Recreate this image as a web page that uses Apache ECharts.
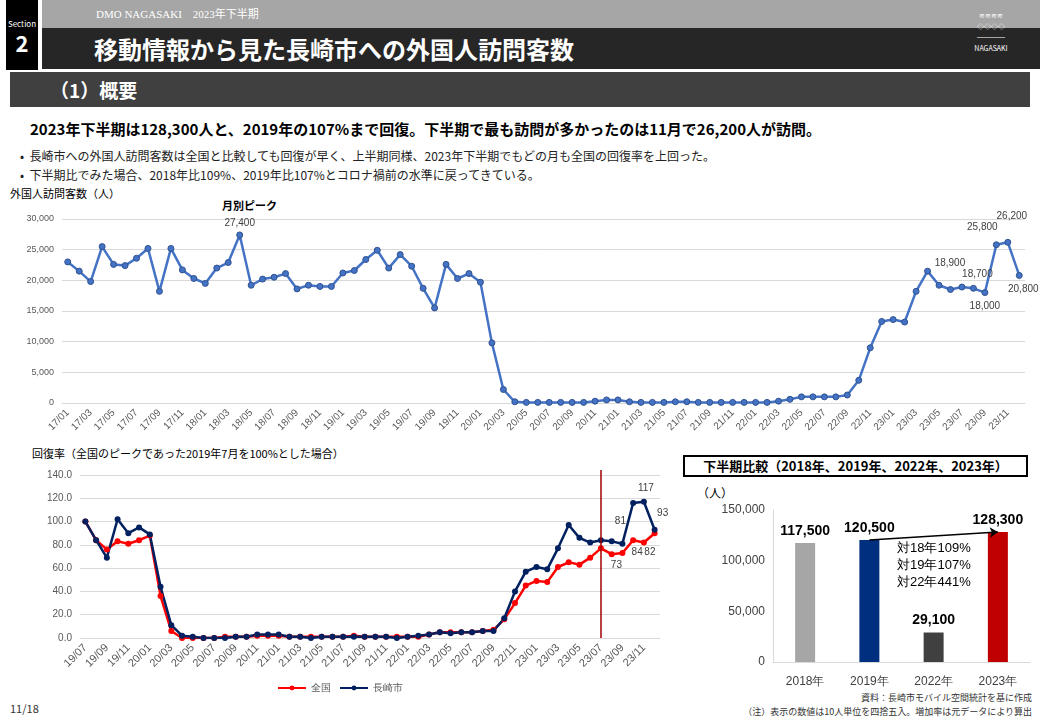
<!DOCTYPE html>
<html><head><meta charset="utf-8">
<script src="https://cdn.jsdelivr.net/npm/echarts@6/dist/echarts.min.js"></script>
<style>
body{margin:0;width:1040px;height:720px;position:relative;background:#fff;font-family:"Noto Sans CJK JP","Noto Sans",sans-serif;overflow:hidden}
.abs{position:absolute}
</style></head><body>
<div class="abs" style="left:6px;top:0;height:70px;background:#000;color:#fff;text-align:center;width:32px">
  <div style="font-size:8px;margin-top:18px">Section</div><div style="font-size:22px;font-weight:bold;line-height:26px">2</div></div>
<div class="abs" style="left:42px;top:0;width:998px;height:28px;background:#a6a6a6;color:#fff;font-size:11px;line-height:28px;padding-left:54px;box-sizing:border-box;font-family:'Liberation Serif','Noto Sans CJK JP'">DMO NAGASAKI　2023年下半期</div>
<div class="abs" style="left:42px;top:28px;width:998px;height:41px;background:#262626;color:#fff;font-size:24px;font-weight:bold;line-height:41px;padding-left:52px;box-sizing:border-box">移動情報から見た長崎市への外国人訪問客数</div>
<div class="abs" style="left:966px;top:10px;width:50px;height:52px;color:#fff;font-size:7px;text-align:center;line-height:11px">≋≋≋≋<br>◇◇◇◇<br>════<br>NAGASAKI</div>
<div class="abs" style="left:10px;top:72px;width:1020px;height:35px;background:#404040;color:#fff;font-size:19px;font-weight:bold;line-height:35px;padding-left:40px;box-sizing:border-box">（1）概要</div>
<div class="abs" style="left:30px;top:118px;font-size:15px;font-weight:bold;color:#000">2023年下半期は128,300人と、2019年の107%まで回復。下半期で最も訪問が多かったのは11月で26,200人が訪問。</div>
<div class="abs" style="left:20px;top:146px;font-size:12px;color:#222;line-height:19px">•&nbsp; 長崎市への外国人訪問客数は全国と比較しても回復が早く、上半期同様、2023年下半期でもどの月も全国の回復率を上回った。<br>•&nbsp; 下半期比でみた場合、2018年比109%、2019年比107%とコロナ禍前の水準に戻ってきている。</div>
<div class="abs" style="left:10px;top:185px;font-size:11px;color:#000">外国人訪問客数（人）</div>
<div class="abs" style="left:222px;top:197px;font-size:11px;font-weight:bold;color:#000">月別ピーク</div>
<div class="abs" style="left:32px;top:445px;font-size:11px;color:#000">回復率（全国のピークであった2019年7月を100%とした場合）</div>
<div class="abs" style="left:683px;top:455px;width:345px;height:22px;border:2px solid #000;box-sizing:border-box;font-size:13px;font-weight:bold;text-align:center;line-height:18px">下半期比較（2018年、2019年、2022年、2023年）</div>
<div class="abs" style="left:697px;top:484px;font-size:12px">（人）</div>
<div class="abs" style="right:8px;top:691px;font-size:9px;color:#333">資料：長崎市モバイル空間統計を基に作成</div>
<div class="abs" style="right:8px;top:705px;font-size:9px;color:#333">（注）表示の数値は10人単位を四捨五入。増加率は元データにより算出</div>
<div class="abs" style="left:10px;top:700px;font-size:11px;color:#333">11/18</div>
<div id="c1" class="abs" style="left:0;top:200px;width:1040px;height:245px"></div>
<div id="c2" class="abs" style="left:0;top:460px;width:680px;height:240px"></div>
<div id="c3" class="abs" style="left:690px;top:490px;width:350px;height:205px"></div>
<script>
const months = [];
for (let y = 17; y <= 23; y++) for (let m = 1; m <= 12; m++) months.push(y + '/' + String(m).padStart(2, '0'));
const visitors = [
 23000,21500,19800,25500,22600,22400,23600,25200,18200,25200,21700,20300,
 19500,22000,22900,27400,19200,20200,20500,21100,18600,19200,19000,19000,
 21200,21600,23400,24900,22000,24200,22300,18700,15500,22600,20300,21100,
 19700,9800,2200,200,100,100,100,100,100,100,300,500,
 500,200,100,100,100,200,200,100,100,100,100,100,
 100,100,300,600,1000,1000,1000,1000,1300,3700,9000,13300,
 13600,13200,18200,21500,19200,18500,18900,18700,18000,25800,26200,20800];
// label offsets [dx, dy] relative to the point
const visLabels = {'18/04':[0,-12],'23/07':[-12,-24],'23/08':[4,-14],'23/09':[0,14],'23/10':[-14,-18],'23/11':[4,-26],'23/12':[4,14]};

const rMonths = months.slice(30);
const nagasaki = [100,84,69,102,90,95,89,44,11,2,1,0,0,0,1,1,3,3,3,1,1,0,1,1,1,1,1,1,1,0,
 1,2,3,5,4,5,5,6,6,17,40,57,61,59,77,97,86,82,84,83,81,116,117,93];
const national = [100,84,76,83,81,84,88,36,6,0,0,0,0,1,1,1,2,2,2,1,1,1,1,1,1,2,1,1,1,1,
 1,1,3,5,5,5,5,6,7,16,30,45,49,48,61,65,63,69,77,72,73,84,82,90];
const nagLabels = {'23/09':['81',[-2,-22]],'23/11':['117',[2,-14]],'23/12':['93',[8,-16]]};
const natLabels = {'23/09':['73',[-6,12]],'23/10':['84',[4,12]],'23/11':['82',[6,10]]};

const years = ['2018年','2019年','2022年','2023年'];
const halfTotals = [117500,120500,29100,128300];
const barColors = ['#a6a6a6','#002f7f','#404040','#c00000'];

const axisLbl = {color:'#595959', fontSize:10};
const fmt = v => v.toLocaleString('en-US');
const c1 = echarts.init(document.getElementById('c1'));
c1.setOption({
  grid:{left:62,right:15,top:19,bottom:42},
  xAxis:{type:'category',data:months,axisTick:{show:false},axisLine:{lineStyle:{color:'#d9d9d9'}},
    axisLabel:{...axisLbl,interval:1,rotate:45}},
  yAxis:{type:'value',min:0,max:30000,interval:5000,axisLabel:{...axisLbl,fontSize:9,formatter:fmt},splitLine:{lineStyle:{color:'#d9d9d9'}}},
  series:[{type:'line',data:visitors.map((v,i)=>{
      const o = visLabels[months[i]];
      return o ? {value:v,label:{show:true,position:'inside',offset:o,formatter:fmt(v),color:'#404040',fontSize:10}} : v;}),
    symbol:'circle',symbolSize:6,lineStyle:{color:'#4472c4',width:2.5},itemStyle:{color:'#4472c4',borderColor:'#2f528f',borderWidth:1}}]
});

const c2 = echarts.init(document.getElementById('c2'));
const mk = (arr, lbls) => arr.map((v,i)=>{
  const l = lbls[rMonths[i]];
  return l ? {value:v,label:{show:true,position:'inside',offset:l[1],formatter:l[0],color:'#404040',fontSize:10}} : v;});
c2.setOption({
  legend:{bottom:2,itemWidth:28,itemHeight:6,textStyle:{fontSize:10,color:'#595959'},data:['全国','長崎市']},
  grid:{left:80,right:20,top:15,bottom:62},
  xAxis:{type:'category',data:rMonths,axisTick:{show:false},axisLine:{lineStyle:{color:'#d9d9d9'}},axisLabel:{...axisLbl,fontSize:11,interval:1,rotate:45}},
  yAxis:{type:'value',min:0,max:140,interval:20,axisLabel:{...axisLbl,formatter:v=>v.toFixed(1)},splitLine:{lineStyle:{color:'#d9d9d9'}}},
  series:[
    {name:'全国',type:'line',data:mk(national,natLabels),symbol:'circle',symbolSize:6,lineStyle:{color:'#ff0000',width:2.5},itemStyle:{color:'#ff0000'}},
    {name:'長崎市',type:'line',data:mk(nagasaki,nagLabels),symbol:'circle',symbolSize:6,lineStyle:{color:'#002060',width:2.5},itemStyle:{color:'#002060'},
      markLine:{silent:true,symbol:'none',label:{show:false},lineStyle:{color:'#a00000',type:'solid',width:1.5},data:[[{xAxis:'23/07',y:10},{xAxis:'23/07',yAxis:0}]]}}
  ]
});

const c3 = echarts.init(document.getElementById('c3'));
c3.setOption({
  grid:{left:83,right:10,top:20,bottom:33},
  xAxis:{type:'category',data:years,axisTick:{show:false},axisLine:{lineStyle:{color:'#d9d9d9'}},axisLabel:{color:'#404040',fontSize:12,margin:14}},
  yAxis:{type:'value',min:0,max:150000,interval:50000,axisLine:{show:true,lineStyle:{color:'#d9d9d9'}},axisLabel:{color:'#404040',fontSize:12,formatter:fmt},splitLine:{show:false}},
  series:[{type:'bar',barWidth:20,data:halfTotals.map((v,i)=>({value:v,itemStyle:{color:barColors[i]}})),
    label:{show:true,position:'top',fontSize:14,fontWeight:'bold',color:'#000',formatter:p=>fmt(p.value)},
    markLine:{silent:true,symbol:['none','arrow'],symbolSize:8,label:{show:false},lineStyle:{color:'#000',type:'solid',width:1.5},
      data:[[{coord:['2019年',halfTotals[1]]},{coord:['2023年',halfTotals[3]]}]]}}],
  graphic:[{type:'text',left:207,top:50,style:{text:'対18年109%\n対19年107%\n対22年441%',fontSize:13,lineHeight:17,fill:'#000'}}]
});
</script></body></html>
